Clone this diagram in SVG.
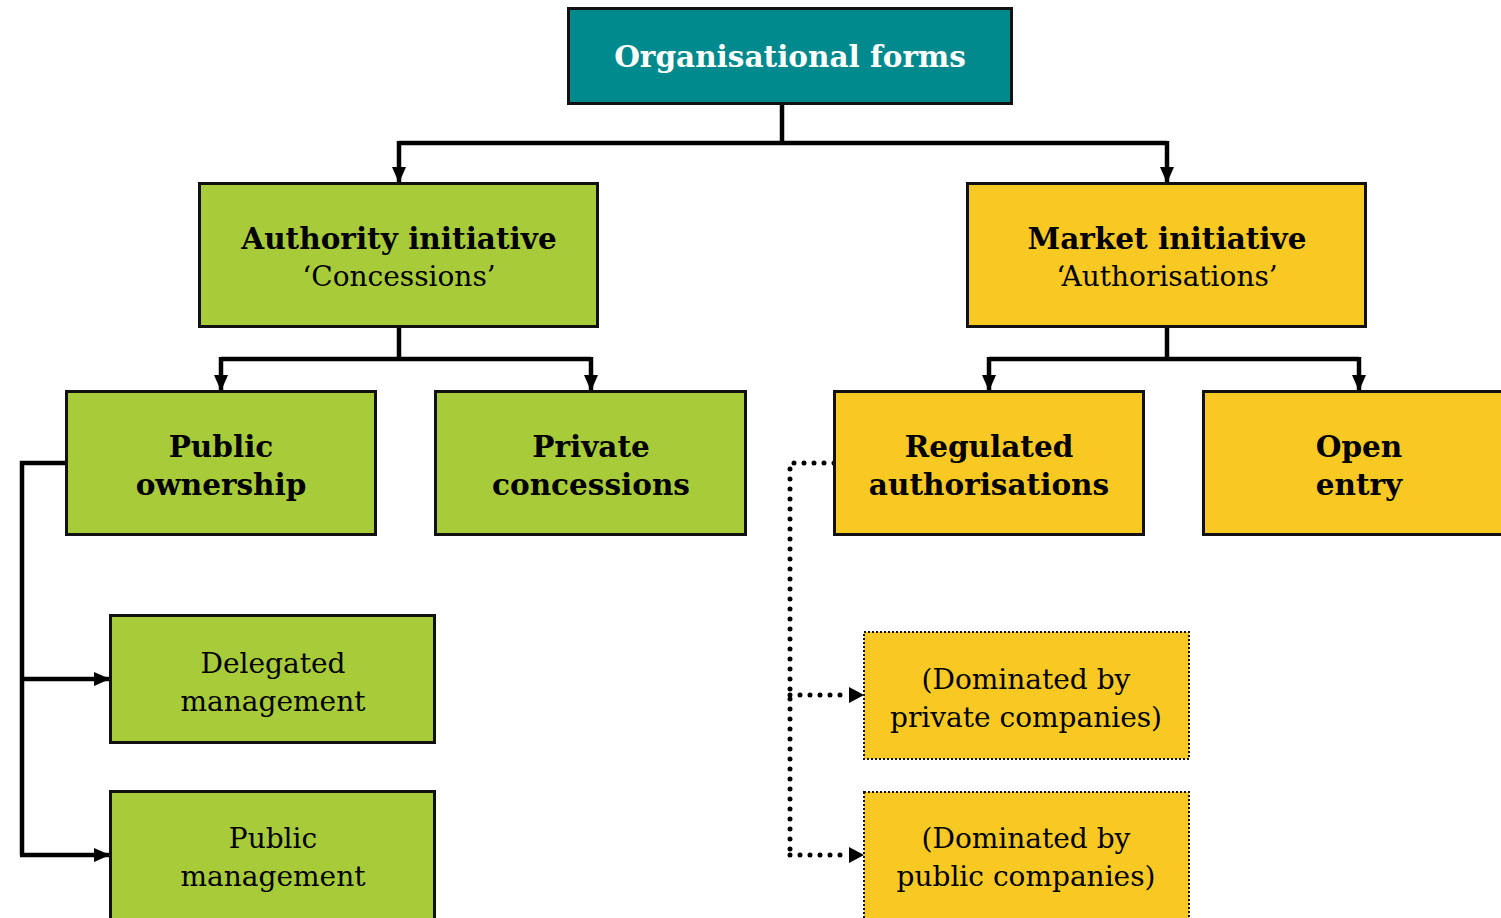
<svg xmlns="http://www.w3.org/2000/svg" width="1501" height="918" viewBox="0 0 1501 918">
<style>
.box{stroke:#111;stroke-width:3}
.teal{fill:#008A8E}
.green{fill:#A8CB3A}
.yellow{fill:#F8C823}
.dotbox{stroke:#111;stroke-width:2;stroke-dasharray:2 2}
.t{font-family:"DejaVu Serif","Liberation Serif",serif;text-anchor:middle;fill:#000}
.b{font-weight:bold;font-size:29.5px}
.r{font-size:28px}
.solid{fill:none;stroke:#000;stroke-width:4.5}
.dot{fill:none;stroke:#000;stroke-width:5;stroke-linecap:round;stroke-dasharray:0 10}
</style>
<defs>
<marker id="ah" markerUnits="userSpaceOnUse" markerWidth="18" markerHeight="16" refX="16" refY="8" orient="auto">
<path d="M0,1 L16,8 L0,15 Z" fill="#000"/>
</marker>
</defs>
<g id="connectors">
<polyline class="solid" points="782,103 782,143"/>
<polyline class="solid" points="399,143 1167,143"/>
<line class="solid" x1="399" y1="141" x2="399" y2="183" marker-end="url(#ah)"/>
<line class="solid" x1="1167" y1="141" x2="1167" y2="183" marker-end="url(#ah)"/>
<polyline class="solid" points="399,327 399,359"/>
<polyline class="solid" points="221,359 591,359"/>
<line class="solid" x1="221" y1="357" x2="221" y2="391" marker-end="url(#ah)"/>
<line class="solid" x1="591" y1="357" x2="591" y2="391" marker-end="url(#ah)"/>
<polyline class="solid" points="1167,327 1167,359"/>
<polyline class="solid" points="989,359 1359,359"/>
<line class="solid" x1="989" y1="357" x2="989" y2="391" marker-end="url(#ah)"/>
<line class="solid" x1="1359" y1="357" x2="1359" y2="391" marker-end="url(#ah)"/>
<polyline class="solid" points="66,463 22,463 22,855"/>
<line class="solid" x1="20" y1="679" x2="110" y2="679" marker-end="url(#ah)"/>
<line class="solid" x1="20" y1="855" x2="110" y2="855" marker-end="url(#ah)"/>
<polyline class="dot" points="834,463 790,463 790,855"/>
<line class="dot" x1="790" y1="695" x2="850" y2="695"/>
<line class="dot" x1="790" y1="855" x2="850" y2="855"/>
<path d="M849,687 L864,695 L849,703 Z" fill="#000"/>
<path d="M849,847 L864,855 L849,863 Z" fill="#000"/>
</g>
<g id="organisational-forms">
<rect class="box teal" x="568.5" y="8.5" width="443" height="95"/>
<text class="t b" x="790" y="67" style="fill:#fff">Organisational forms</text>
</g>
<g id="authority-initiative">
<rect class="box green" x="199.5" y="183.5" width="398" height="143"/>
<text class="t b" x="399" y="249">Authority initiative</text>
<text class="t r" x="399" y="286">‘Concessions’</text>
</g>
<g id="market-initiative">
<rect class="box yellow" x="967.5" y="183.5" width="398" height="143"/>
<text class="t b" x="1167" y="249">Market initiative</text>
<text class="t r" x="1167" y="286">‘Authorisations’</text>
</g>
<g id="public-ownership">
<rect class="box green" x="66.5" y="391.5" width="309" height="143"/>
<text class="t b" x="221" y="457">Public</text>
<text class="t b" x="221" y="495">ownership</text>
</g>
<g id="private-concessions">
<rect class="box green" x="435.5" y="391.5" width="310" height="143"/>
<text class="t b" x="591" y="457">Private</text>
<text class="t b" x="591" y="495">concessions</text>
</g>
<g id="regulated-authorisations">
<rect class="box yellow" x="834.5" y="391.5" width="309" height="143"/>
<text class="t b" x="989" y="457">Regulated</text>
<text class="t b" x="989" y="495">authorisations</text>
</g>
<g id="open-entry">
<rect class="box yellow" x="1203.5" y="391.5" width="310" height="143"/>
<text class="t b" x="1359" y="457">Open</text>
<text class="t b" x="1359" y="495">entry</text>
</g>
<g id="delegated-management">
<rect class="box green" x="110.5" y="615.5" width="324" height="127"/>
<text class="t r" x="273" y="673">Delegated</text>
<text class="t r" x="273" y="711">management</text>
</g>
<g id="public-management">
<rect class="box green" x="110.5" y="791.5" width="324" height="140"/>
<text class="t r" x="273" y="848">Public</text>
<text class="t r" x="273" y="886">management</text>
</g>
<g id="dominated-private">
<rect class="dotbox yellow" x="864" y="632" width="325" height="127"/>
<text class="t r" x="1026" y="689">(Dominated by</text>
<text class="t r" x="1026" y="727">private companies)</text>
</g>
<g id="dominated-public">
<rect class="dotbox yellow" x="864" y="792" width="325" height="140"/>
<text class="t r" x="1026" y="848">(Dominated by</text>
<text class="t r" x="1026" y="886">public companies)</text>
</g>
</svg>
